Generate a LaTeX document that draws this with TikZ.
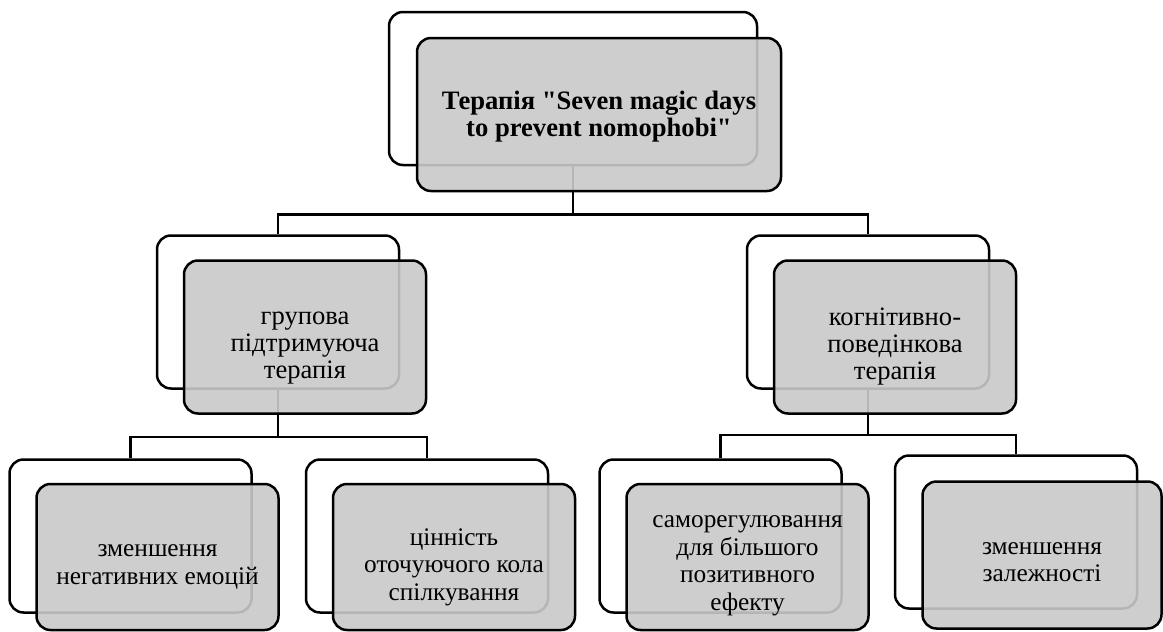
\documentclass[tikz,border=0pt]{standalone}
\usepackage{fontspec}
\setmainfont{Liberation Serif}[Ligatures=TeXOff]
\usepackage{tikz}
\usetikzlibrary{positioning}
\definecolor{boxgrey}{gray}{0.79}

\begin{document}
\begin{tikzpicture}[x=1pt, y=-1pt, line width=2.5pt,
  back/.style = {draw, rounded corners=14pt, fill=white, inner sep=0pt, minimum width=242pt, minimum height=153pt},
  front/.style = {back, fill=boxgrey, fill opacity=0.9},
  txt/.style = {align=center, inner sep=0pt, font=\fontsize{26.6}{27}\selectfont},
  small/.style = {txt, font=\fontsize{25.3}{27.5}\selectfont}]
\useasboundingbox (0,0) rectangle (1163,632);
\node[back, minimum width=368pt] (1) at (573,88.5) {};
\node[back] (2) at (278,312) {};
\node[back] (3) at (868,312) {};
\node[back] (4) at (130.5,536) {};
\node[back] (5) at (427,536) {};
\node[back] (6) at (720.5,536) {};
\node[back] (7) at (1016,532) {};
\draw (1.south) -- ++(0,48) coordinate (b1) -| (2.north);
\draw (b1) -| (3.north);
\draw (2.south) -- ++(0,47) coordinate (b2) -| (4.north);
\draw (b2) -| (5.north);
\draw (3.south) -- ++(0,45) coordinate (b3) -| (6.north);
\draw (b3) -| (7.north);
\node[front, minimum width=364pt] (1a) at ([shift={(26,26)}]1) {};
\node[front] (2a) at ([shift={(27,25)}]2) {};
\node[front] (3a) at ([shift={(27,25)}]3) {};
\node[front, minimum height=146pt] (4a) at ([shift={(27,21)}]4) {};
\node[front, minimum height=146pt] (5a) at ([shift={(27,21)}]5) {};
\node[front, minimum height=146pt] (6a) at ([shift={(27,21)}]6) {};
\node[front, minimum width=239pt, minimum height=147pt] (7a) at ([shift={(26,23)}]7) {};
% texts sit a little below the middle of the grey boxes
\node[txt, font=\fontsize{26.6}{27}\selectfont\bfseries] (1t) at ([shift={(0,2)}]1a) {Терапія "Seven magic days\\to prevent nomophobi"};
\node[txt] (2t) at ([shift={(0,11)}]2a) {групова\\підтримуюча\\терапія};
\node[txt] (3t) at ([shift={(0,10)}]3a) {когнітивно-\\поведінкова\\терапія};
\node[small] (4t) at ([shift={(0,10)}]4a) {зменшення\\негативних емоцій};
\node[small] (5t) at ([shift={(0,10)}]5a) {цінність\\оточуючого кола\\спілкування};
\node[small] (6t) at ([shift={(0,9)}]6a) {саморегулювання\\для більшого\\позитивного\\ефекту};
\node[small] (7t) at ([shift={(0,7)}]7a) {зменшення\\залежності};
\end{tikzpicture}
\end{document}
